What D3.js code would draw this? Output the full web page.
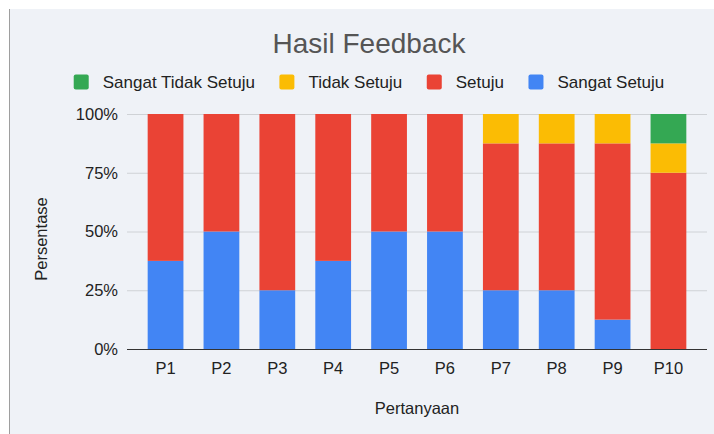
<!DOCTYPE html>
<html>
<head>
<meta charset="utf-8">
<script src="https://cdn.jsdelivr.net/npm/d3@7"></script>
<style>
  body { margin: 0; background: #fff; }
  svg { display: block; font-family: "Liberation Sans", Arial, sans-serif; }
</style>
</head>
<body>
<svg id="chart" width="714" height="434"></svg>
<script>
// data (percent per question)
var categories = ["P1", "P2", "P3", "P4", "P5", "P6", "P7", "P8", "P9", "P10"];
var sangatSetuju      = [37.5, 50, 25, 37.5, 50, 50, 25, 25, 12.5, 0];
var setuju            = [62.5, 50, 75, 62.5, 50, 50, 62.5, 62.5, 75, 75];
var tidakSetuju       = [0, 0, 0, 0, 0, 0, 12.5, 12.5, 12.5, 12.5];
var sangatTidakSetuju = [0, 0, 0, 0, 0, 0, 0, 0, 0, 12.5];
var yTicks = [0, 25, 50, 75, 100];

// stacking order bottom -> top
var seriesNames = ["Sangat Setuju", "Setuju", "Tidak Setuju", "Sangat Tidak Setuju"];
var seriesValues = [sangatSetuju, setuju, tidakSetuju, sangatTidakSetuju];
var colors = ["#4285f4", "#ea4335", "#fbbc04", "#34a853"];
var legendOrder = [3, 2, 1, 0];

var rows = categories.map(function(c, i) {
  var r = { cat: c };
  seriesNames.forEach(function(s, j) { r[s] = seriesValues[j][i]; });
  return r;
});

var svg = d3.select("#chart");

// background panel
svg.append("rect").attr("x", 10).attr("y", 9).attr("width", 704).attr("height", 425).attr("fill", "#eff2f7");
svg.append("line").attr("x1", 9.5).attr("x2", 9.5).attr("y1", 9).attr("y2", 434)
  .attr("stroke", "#9e9e9e").attr("stroke-width", 1);

var x = d3.scaleBand().domain(categories).range([127, 707]).paddingInner(0.36).paddingOuter(0.37);
var y = d3.scaleLinear().domain([0, 100]).range([349, 114]);

// gridlines
svg.append("g").selectAll("line").data(yTicks.filter(function(d) { return d > 0; })).join("line")
  .attr("x1", 127).attr("x2", 707)
  .attr("y1", function(d) { return y(d) + 0.5; }).attr("y2", function(d) { return y(d) + 0.5; })
  .attr("stroke", "#cfd2d6").attr("stroke-width", 1);

// bars
var stack = d3.stack().keys(seriesNames);
var layers = stack(rows);
svg.append("g").selectAll("g").data(layers).join("g")
  .attr("fill", function(d, i) { return colors[i]; })
  .selectAll("rect").data(function(d) { return d; }).join("rect")
  .attr("x", function(d) { return x(d.data.cat); })
  .attr("width", x.bandwidth())
  .attr("y", function(d) { return y(d[1]); })
  .attr("height", function(d) { return y(d[0]) - y(d[1]); });

// baseline
svg.append("line").attr("x1", 127).attr("x2", 707).attr("y1", y(0) + 0.5).attr("y2", y(0) + 0.5)
  .attr("stroke", "#333").attr("stroke-width", 1);

// y axis labels
svg.append("g").selectAll("text").data(yTicks).join("text")
  .attr("x", 118).attr("y", function(d) { return y(d); })
  .attr("dy", "0.35em").attr("text-anchor", "end")
  .attr("font-size", 16.5).attr("fill", "#222")
  .text(function(d) { return d + "%"; });

// x axis labels
svg.append("g").selectAll("text").data(categories).join("text")
  .attr("x", function(d) { return x(d) + x.bandwidth() / 2; }).attr("y", 368)
  .attr("dy", "0.35em").attr("text-anchor", "middle")
  .attr("font-size", 16.5).attr("fill", "#222")
  .text(function(d) { return d; });

// axis titles
svg.append("text").attr("x", 417).attr("y", 408).attr("dy", "0.35em")
  .attr("text-anchor", "middle").attr("font-size", 16.5).attr("fill", "#222")
  .text("Pertanyaan");
svg.append("text").attr("transform", "translate(41,239) rotate(-90)").attr("dy", "0.35em")
  .attr("text-anchor", "middle").attr("font-size", 16.5).attr("fill", "#222")
  .text("Persentase");

// title
svg.append("text").attr("x", 369).attr("y", 53).attr("text-anchor", "middle")
  .attr("font-size", 28).attr("fill", "#555")
  .text("Hasil Feedback");

// legend
var legend = svg.append("g");
var cursor = 0;
legendOrder.forEach(function(k, i) {
  var g = legend.append("g").attr("transform", "translate(" + cursor + ",0)");
  g.append("rect").attr("x", 0).attr("y", 74.5).attr("width", 15).attr("height", 15)
    .attr("rx", 2).attr("fill", colors[k]);
  var t = g.append("text").attr("x", 29).attr("y", 82).attr("dy", "0.35em")
    .attr("font-size", 17).attr("fill", "#222").text(seriesNames[k]);
  cursor += 29 + t.node().getComputedTextLength() + 24.5;
});
var legendWidth = cursor - 24.5;
legend.attr("transform", "translate(" + (369 - legendWidth / 2) + ",0)");
</script>
</body>
</html>
